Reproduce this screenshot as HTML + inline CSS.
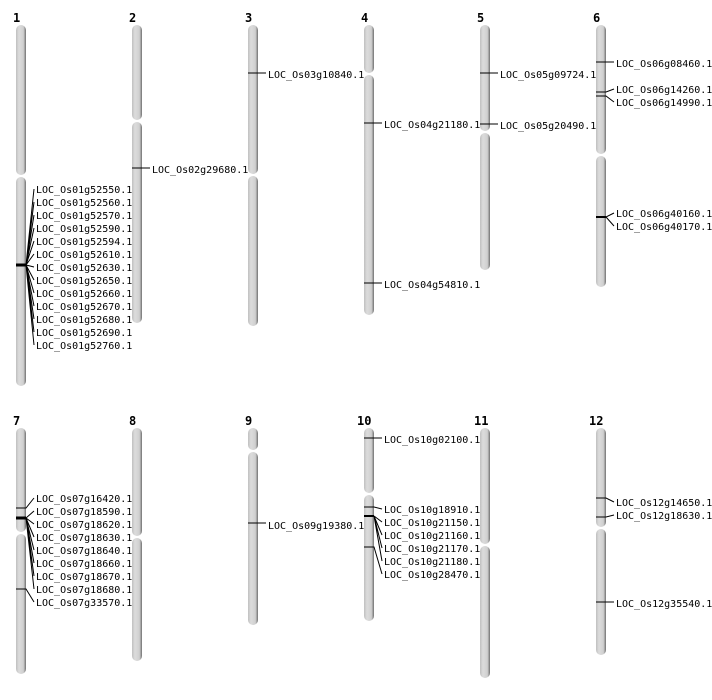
<!DOCTYPE html>
<html><head><meta charset="utf-8"><style>body{margin:0;background:#fff}svg{display:block}text{font-family:"DejaVu Sans Mono","Liberation Mono",monospace;font-size:10px;fill:#000}.n{font-family:"DejaVu Sans Mono",monospace;font-weight:bold;font-size:12px}</style></head><body>
<svg width="712" height="700" viewBox="0 0 712 700">
<defs><linearGradient id="g" x1="0" x2="1" y1="0" y2="0"><stop offset="0" stop-color="#c0c0c0"/><stop offset="0.3" stop-color="#dcdcdc"/><stop offset="0.75" stop-color="#cfcfcf"/><stop offset="1" stop-color="#707070"/></linearGradient></defs>
<g fill="url(#g)">
<rect x="16" y="25" width="10" height="150" rx="5"/><rect x="16" y="177" width="10" height="209" rx="5"/>
<rect x="132" y="25" width="10" height="95" rx="5"/><rect x="132" y="122" width="10" height="201" rx="5"/>
<rect x="248" y="25" width="10" height="149" rx="5"/><rect x="248" y="176" width="10" height="150" rx="5"/>
<rect x="364" y="25" width="10" height="48" rx="5"/><rect x="364" y="75" width="10" height="240" rx="5"/>
<rect x="480" y="25" width="10" height="106" rx="5"/><rect x="480" y="133" width="10" height="137" rx="5"/>
<rect x="596" y="25" width="10" height="129" rx="5"/><rect x="596" y="156" width="10" height="131" rx="5"/>
<rect x="16" y="428" width="10" height="104" rx="5"/><rect x="16" y="534" width="10" height="140" rx="5"/>
<rect x="132" y="428" width="10" height="108" rx="5"/><rect x="132" y="538" width="10" height="123" rx="5"/>
<rect x="248" y="428" width="10" height="22" rx="5"/><rect x="248" y="452" width="10" height="173" rx="5"/>
<rect x="364" y="428" width="10" height="65" rx="5"/><rect x="364" y="495" width="10" height="126" rx="5"/>
<rect x="480" y="428" width="10" height="116" rx="5"/><rect x="480" y="546" width="10" height="132" rx="5"/>
<rect x="596" y="428" width="10" height="99" rx="5"/><rect x="596" y="529" width="10" height="126" rx="5"/>
</g>
<g class="n"><text class="n" x="13" y="22">1</text><text class="n" x="129" y="22">2</text><text class="n" x="245" y="22">3</text><text class="n" x="361" y="22">4</text><text class="n" x="477" y="22">5</text><text class="n" x="593" y="22">6</text>
<text class="n" x="13" y="425">7</text><text class="n" x="129" y="425">8</text><text class="n" x="245" y="425">9</text><text class="n" x="357" y="425">10</text><text class="n" x="474" y="425">11</text><text class="n" x="589" y="425">12</text></g>
<g stroke="#000" stroke-width="1" fill="none">
<path d="M16 265H26" stroke-width="3"/>
<path d="M26 265L34 189M26 265L34 202M26 265L34 215M26 265L34 228M26 265L34 241M26 265L34 254M26 265L34 267M26 265L34 280M26 265L34 293M26 265L34 306M26 265L34 319M26 265L34 332M26 265L34 345"/>
<path d="M132 168H150M248 73H266M364 123H382M364 283H382M480 73H498M480 124H498"/>
<path d="M596 62H614M596 92H606L614 89M596 96H606L614 102M596 217H606L614 213M606 217L614 226"/>
<path d="M596 217H606" stroke-width="2"/>
<path d="M16 508H26L34 498M16 589H26L34 602"/>
<path d="M16 518H26" stroke-width="3"/>
<path d="M26 518L34 511M26 518L34 524M26 518L34 537M26 518L34 550M26 518L34 563M26 518L34 576M26 518L34 589"/>
<path d="M248 523H266M364 438H382M364 507H374L382 509M364 547H374L382 574M596 498H606L614 502M596 517H606L614 515M596 602H614"/>
<path d="M364 516H374" stroke-width="2"/>
<path d="M374 516L382 522M374 516L382 535M374 516L382 548M374 516L382 561"/>
</g>
<g dominant-baseline="middle" transform="translate(0,1)">
<text x="36" y="189">LOC_Os01g52550.1</text><text x="36" y="202">LOC_Os01g52560.1</text><text x="36" y="215">LOC_Os01g52570.1</text><text x="36" y="228">LOC_Os01g52590.1</text><text x="36" y="241">LOC_Os01g52594.1</text><text x="36" y="254">LOC_Os01g52610.1</text><text x="36" y="267">LOC_Os01g52630.1</text><text x="36" y="280">LOC_Os01g52650.1</text><text x="36" y="293">LOC_Os01g52660.1</text><text x="36" y="306">LOC_Os01g52670.1</text><text x="36" y="319">LOC_Os01g52680.1</text><text x="36" y="332">LOC_Os01g52690.1</text><text x="36" y="345">LOC_Os01g52760.1</text>
<text x="152" y="169">LOC_Os02g29680.1</text>
<text x="268" y="74">LOC_Os03g10840.1</text>
<text x="384" y="124">LOC_Os04g21180.1</text><text x="384" y="284">LOC_Os04g54810.1</text>
<text x="500" y="74">LOC_Os05g09724.1</text><text x="500" y="125">LOC_Os05g20490.1</text>
<text x="616" y="63">LOC_Os06g08460.1</text><text x="616" y="89">LOC_Os06g14260.1</text><text x="616" y="102">LOC_Os06g14990.1</text><text x="616" y="213">LOC_Os06g40160.1</text><text x="616" y="226">LOC_Os06g40170.1</text>
<text x="36" y="498">LOC_Os07g16420.1</text><text x="36" y="511">LOC_Os07g18590.1</text><text x="36" y="524">LOC_Os07g18620.1</text><text x="36" y="537">LOC_Os07g18630.1</text><text x="36" y="550">LOC_Os07g18640.1</text><text x="36" y="563">LOC_Os07g18660.1</text><text x="36" y="576">LOC_Os07g18670.1</text><text x="36" y="589">LOC_Os07g18680.1</text><text x="36" y="602">LOC_Os07g33570.1</text>
<text x="268" y="525">LOC_Os09g19380.1</text>
<text x="384" y="439">LOC_Os10g02100.1</text><text x="384" y="509">LOC_Os10g18910.1</text><text x="384" y="522">LOC_Os10g21150.1</text><text x="384" y="535">LOC_Os10g21160.1</text><text x="384" y="548">LOC_Os10g21170.1</text><text x="384" y="561">LOC_Os10g21180.1</text><text x="384" y="574">LOC_Os10g28470.1</text>
<text x="616" y="502">LOC_Os12g14650.1</text><text x="616" y="515">LOC_Os12g18630.1</text><text x="616" y="603">LOC_Os12g35540.1</text>
</g>
</svg>
</body></html>
